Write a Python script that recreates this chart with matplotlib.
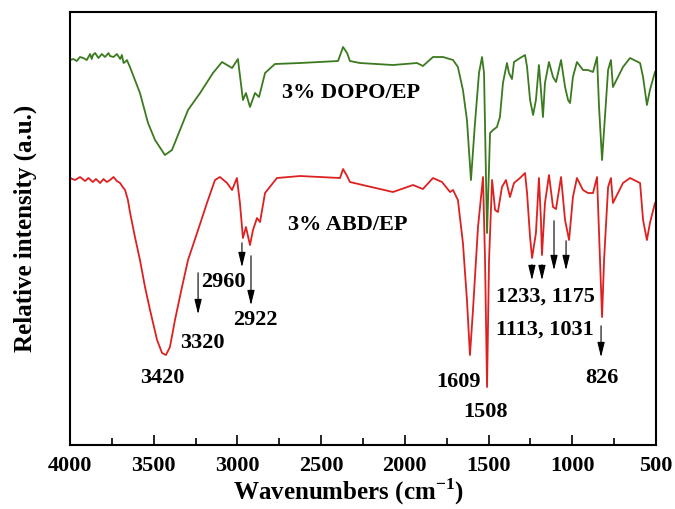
import numpy as np
import matplotlib.pyplot as plt
from matplotlib.ticker import MultipleLocator

# FTIR spectra (wavenumber in cm-1, intensity in a.u.)
dopo_wn = [4000, 3980, 3960, 3940, 3920, 3900, 3880, 3870, 3863, 3850, 3830, 3810, 3791,
           3770, 3761, 3740, 3720, 3700, 3690, 3680, 3671, 3660, 3642, 3582, 3534, 3492,
           3433, 3391, 3343, 3295, 3223, 3146, 3092, 3032, 2997, 2967, 2949, 2925, 2895,
           2871, 2835, 2776, 2626, 2399, 2369, 2345, 2328, 2268, 2071, 1927, 1892, 1832,
           1772, 1712, 1683, 1653, 1629, 1605, 1581, 1557, 1539, 1527, 1509, 1491, 1473,
           1450, 1432, 1414, 1390, 1378, 1360, 1348, 1312, 1282, 1270, 1252, 1234, 1217,
           1199, 1187, 1175, 1163, 1139, 1115, 1097, 1067, 1043, 1025, 1013, 996, 972,
           936, 906, 876, 852, 840, 822, 810, 786, 769, 757, 727, 697, 655, 595, 577,
           554, 536, 506]
dopo_int = [385, 386, 384, 388, 387, 385, 391, 386, 390, 392, 387, 391, 388,
            392, 389, 388, 391, 386, 390, 382, 383, 385, 378, 352, 322, 305,
            290, 295, 315, 335, 352, 372, 383, 377, 386, 345, 352, 338, 352,
            348, 372, 381, 382, 384, 398, 392, 384, 382, 380, 382, 379, 388,
            388, 385, 378, 355, 325, 265, 322, 372, 388, 372, 212, 312, 315,
            318, 328, 362, 382, 372, 366, 383, 387, 390, 378, 345, 330, 345,
            380, 355, 328, 362, 383, 368, 363, 385, 358, 345, 342, 368, 383,
            375, 375, 373, 388, 338, 285, 315, 375, 385, 358, 368, 378, 387, 382, 368,
            340, 355, 373]

abd_wn = [4000, 3970, 3940, 3910, 3890, 3863, 3845, 3820, 3800, 3780, 3761, 3740, 3720,
          3701, 3685, 3671, 3654, 3642, 3612, 3582, 3552, 3522, 3480, 3450, 3427, 3403,
          3373, 3331, 3295, 3241, 3182, 3134, 3104, 3062, 3032, 3003, 2985, 2967, 2949,
          2925, 2907, 2883, 2865, 2835, 2764, 2626, 2387, 2369, 2345, 2328, 2226, 2071,
          1951, 1892, 1832, 1778, 1730, 1712, 1683, 1653, 1629, 1611, 1593, 1563, 1533,
          1521, 1509, 1497, 1479, 1461, 1444, 1420, 1396, 1372, 1348, 1312, 1282, 1270,
          1252, 1240, 1217, 1199, 1187, 1181, 1163, 1139, 1115, 1097, 1067, 1043, 1019,
          996, 972, 936, 906, 876, 852, 840, 822, 810, 786, 769, 757, 727, 697, 655,
          595, 577, 554, 536, 506]
abd_int = [267, 265, 268, 264, 267, 263, 266, 262, 266, 263, 265, 268, 264,
           262, 258, 255, 245, 233, 208, 185, 158, 135, 105, 92, 90, 98,
           125, 158, 185, 212, 242, 265, 268, 262, 255, 267, 242, 207, 218,
           200, 215, 227, 223, 252, 267, 269, 267, 276, 269, 263, 259, 253,
           260, 256, 267, 263, 253, 255, 245, 202, 145, 90, 135, 218, 268,
           185, 58, 185, 265, 235, 233, 258, 265, 248, 262, 267, 272, 252,
           208, 187, 212, 267, 225, 190, 242, 270, 238, 236, 268, 225, 205,
           248, 267, 255, 252, 252, 268, 212, 128, 185, 258, 267, 242, 252, 262, 267,
           262, 225, 205, 222, 242]

# peak labels and their positions
peak_labels = ["3420", "3320", "2960", "2922", "1609", "1508", "1233, 1175", "1113, 1031", "826"]
label_wn = [3451, 3212, 3086, 2895, 1682, 1521, 1163, 1163, 822]
label_int = [67, 102, 163, 125, 63, 33, 148, 115, 67]
# arrows: x, start and end intensity
arrow_wn = [3235, 2973, 2919, 1241, 1181, 1109, 1037, 828]
arrow_from = [175, 205, 192, 183, 183, 227, 207, 122]
arrow_to = [128, 175, 137, 162, 162, 172, 172, 85]

plt.rcParams['font.family'] = ['Liberation Serif', 'DejaVu Serif']
plt.rcParams['font.weight'] = 'bold'
plt.rcParams['mathtext.fontset'] = 'custom'
plt.rcParams['mathtext.rm'] = 'Liberation Serif:bold'
plt.rcParams['mathtext.bf'] = 'Liberation Serif:bold'

fig = plt.figure(figsize=(6.75, 5.09), dpi=100)
ax = fig.add_axes([0.1037, 0.1257, 0.8681, 0.8507])

ax.plot(dopo_wn, dopo_int, color='#3b7a1e', lw=1.3)
ax.plot(abd_wn, abd_int, color='#dd2020', lw=1.3)

for t, x, y in zip(peak_labels, label_wn, label_int):
    ax.text(x, y, t, ha='center', va='center', fontsize=16, fontweight='bold')

for x, y0, y1 in zip(arrow_wn, arrow_from, arrow_to):
    ax.annotate('', xy=(x, y1), xytext=(x, y0),
                arrowprops=dict(arrowstyle='-|>,head_width=0.22,head_length=0.9',
                                color='black', lw=0.8, mutation_scale=10))

ax.text(2322, 352, "3% DOPO/EP", ha='center', va='center', fontsize=16, fontweight='bold')
ax.text(2339, 220, "3% ABD/EP", ha='center', va='center', fontsize=16, fontweight='bold')

ax.set_xlim(4000, 500)
ax.set_ylim(0, 433)
ax.xaxis.set_major_locator(MultipleLocator(500))
ax.xaxis.set_minor_locator(MultipleLocator(250))
ax.tick_params(axis='x', which='both', direction='in', top=False, width=1.2,
               labelsize=16, pad=8)
ax.tick_params(axis='x', which='major', length=7)
ax.tick_params(axis='x', which='minor', length=5)
ax.set_yticks([])
for s in ax.spines.values():
    s.set_linewidth(1.5)

ax.set_xlabel("Wavenumbers (cm$^{\\mathrm{-1}}$)", fontsize=18, fontweight='bold')
ax.xaxis.set_label_coords(0.475, -0.072)
ax.set_ylabel("Relative intensity (a.u.)", fontsize=18, fontweight='bold', labelpad=24)

fig.savefig("out.png", dpi=100)
